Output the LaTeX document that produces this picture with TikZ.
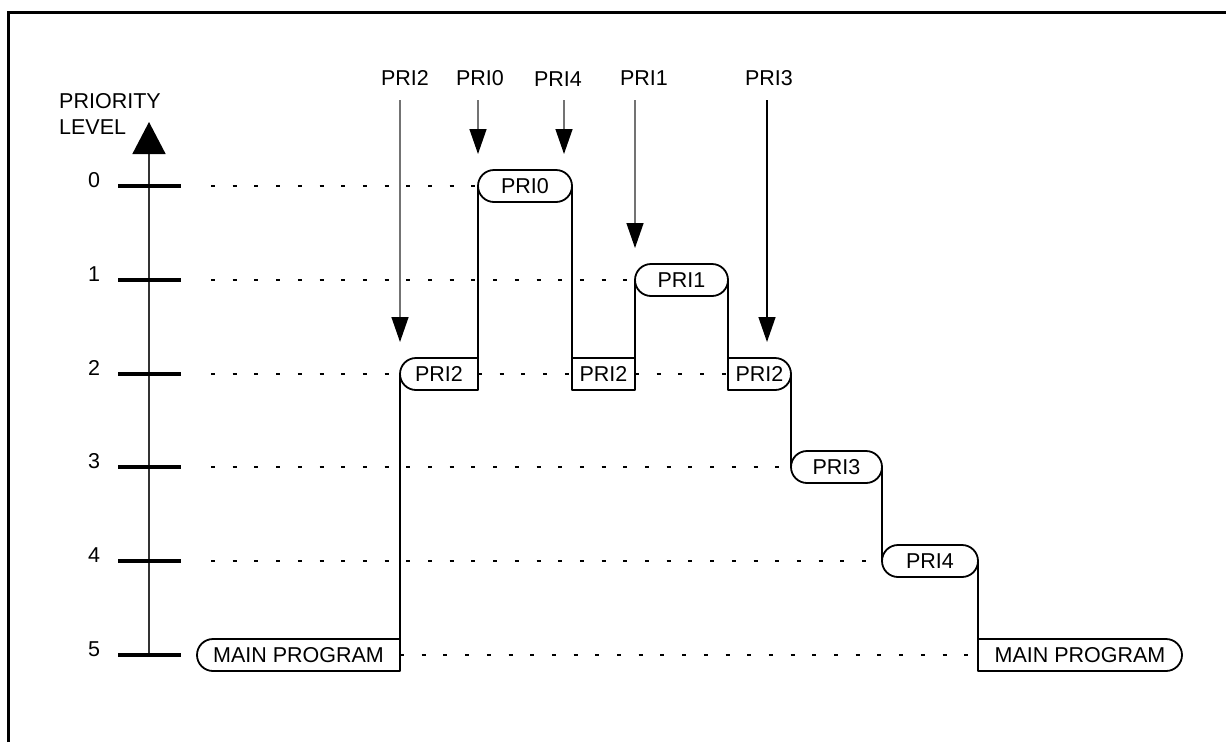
\documentclass[tikz,border=0pt]{standalone}
\usepackage{fontspec}
\setmainfont{Liberation Sans}
\usetikzlibrary{arrows.meta}
\pgfdeclarelayer{bg}
\pgfsetlayers{bg,main}
\tikzset{
  lvlbox/.style={rectangle, draw=none, outer sep=0pt, inner sep=0pt,
    minimum height=32pt, text height=15pt, text depth=0pt,
    font=\fontsize{21.5}{25}\selectfont},
  outline/.style={draw=black, line width=1.8pt, fill=white, line join=round},
  txt/.style={inner sep=0pt, text height=15pt, text depth=0pt, font=\fontsize{21.5}{25}\selectfont},
  guide/.style={line width=1.5pt, dash pattern=on 4pt off 17.7pt},
  step line/.style={line width=2pt},
  tickmark/.style={line width=3.5pt},
  req/.style={line width=1.4pt, draw=black!55, -{Triangle[width=17pt,length=25pt,fill=black,color=black]}},
  frame/.style={line width=3pt}
}
\begin{document}
\begin{tikzpicture}[x=1pt,y=-1pt]
\useasboundingbox (0,0) rectangle (1226,742);
% frame
\coordinate (fa) at (8.5,742);
\coordinate (fb) at (8.5,12);
\coordinate (fc) at (1226,12);
\draw[frame] (fa) -- (fb) -- (fc);

% axis
\coordinate (axbot) at (149,655);
\coordinate (axtop) at (149,122);
\draw[line width=1.6pt, draw=black!80, -{Triangle[width=33pt,length=32pt,fill=black,color=black]}] (axbot) -- (axtop);
\node[txt, anchor=west] (plab1) at (59,101) {PRIORITY};
\node[txt, anchor=west] (plab2) at (59,127) {LEVEL};

% ticks and level labels
\foreach \i/\y in {0/186,1/280,2/374,3/467,4/561,5/655}{
  \coordinate (tl\i) at (118,\y);
  \coordinate (tr\i) at (181,\y);
  \coordinate (gs\i) at (211,\y);
  \draw[tickmark] (tl\i) -- (tr\i);
  \node[txt] (n\i) at (94,\y-6) {\i};
}

% box positions (text nodes; outlines drawn on bg layer)
\path
  node[lvlbox, minimum width=94pt] (b0) at (525,186) {PRI0}
  node[lvlbox, minimum width=93pt] (b1) at (681.5,280) {PRI1}
  node[lvlbox, minimum width=78pt] (b2a) at (439,374) {PRI2}
  node[lvlbox, minimum width=63pt] (b2b) at (603.5,374) {PRI2}
  node[lvlbox, minimum width=63pt] (b2c) at (759.5,374) {PRI2}
  node[lvlbox, minimum width=91pt] (b3) at (836.5,467) {PRI3}
  node[lvlbox, minimum width=96pt] (b4) at (930,561) {PRI4}
  node[lvlbox, minimum width=203pt] (m1) at (298.5,655) {MAIN PROGRAM}
  node[lvlbox, minimum width=204pt] (m2) at (1080,655) {MAIN PROGRAM};

\begin{pgfonlayer}{bg}
% dotted guide lines
\draw[guide] (gs0) -- (b0.west);
\draw[guide] (gs1) -- (b1.west);
\draw[guide] (gs2) -- (b2a.west);
\draw[guide] (b2a.east) -- (b2b.west);
\draw[guide] (b2b.east) -- (b2c.west);
\draw[guide] (gs3) -- (b3.west);
\draw[guide] (gs4) -- (b4.west);
\draw[guide] (m1.east) -- (m2.west);
% outlines: both ends rounded
\foreach \b in {b0,b1,b3,b4}{
  \draw[outline] ([xshift=16pt]\b.north west) -- ([xshift=-16pt]\b.north east)
     arc[start angle=90, end angle=-90, radius=16pt]
     -- ([xshift=16pt]\b.south west)
     arc[start angle=270, end angle=90, radius=16pt] -- cycle;
}
% left end rounded
\foreach \b in {b2a,m1}{
  \draw[outline] (\b.north east) -- ([xshift=16pt]\b.north west)
     arc[start angle=90, end angle=270, radius=16pt]
     -- (\b.south east) -- cycle;
}
% right end rounded
\foreach \b in {b2c,m2}{
  \draw[outline] (\b.north west) -- ([xshift=-16pt]\b.north east)
     arc[start angle=90, end angle=-90, radius=16pt]
     -- (\b.south west) -- cycle;
}
% square
\draw[outline] (b2b.north west) rectangle (b2b.south east);
\end{pgfonlayer}

% step connectors
\draw[step line] (b2a.west) -- (b2a.west |- m1.south);
\draw[step line] (b0.west) -- (b0.west |- b2a.south);
\draw[step line] (b0.east) -- (b0.east |- b2b.south);
\draw[step line] (b1.west) -- (b1.west |- b2b.south);
\draw[step line] (b1.east) -- (b1.east |- b2c.south);
\draw[step line] (b2c.east) -- (b3.west);
\draw[step line] (b3.east) -- (b4.west);
\draw[step line] (b4.east) -- (b4.east |- m2.south);

% interrupt requests
\node[txt] (r2) at (405,78) {PRI2};
\node[txt] (r0) at (480,78) {PRI0};
\node[txt] (r4) at (558,79) {PRI4};
\node[txt] (r1) at (644,78) {PRI1};
\node[txt] (r3) at (769,78) {PRI3};
\coordinate (s2) at (400,100); \coordinate (t2) at (400,342);
\coordinate (s0) at (478,100); \coordinate (t0) at (478,154);
\coordinate (s4) at (564,100); \coordinate (t4) at (564,154);
\coordinate (s1) at (635,100); \coordinate (t1) at (635,248);
\coordinate (s3) at (767,100); \coordinate (t3) at (767,342);
\draw[req] (s2) -- (t2);
\draw[req] (s0) -- (t0);
\draw[req] (s4) -- (t4);
\draw[req] (s1) -- (t1);
\draw[req, draw=black] (s3) -- (t3);
\end{tikzpicture}
\end{document}
